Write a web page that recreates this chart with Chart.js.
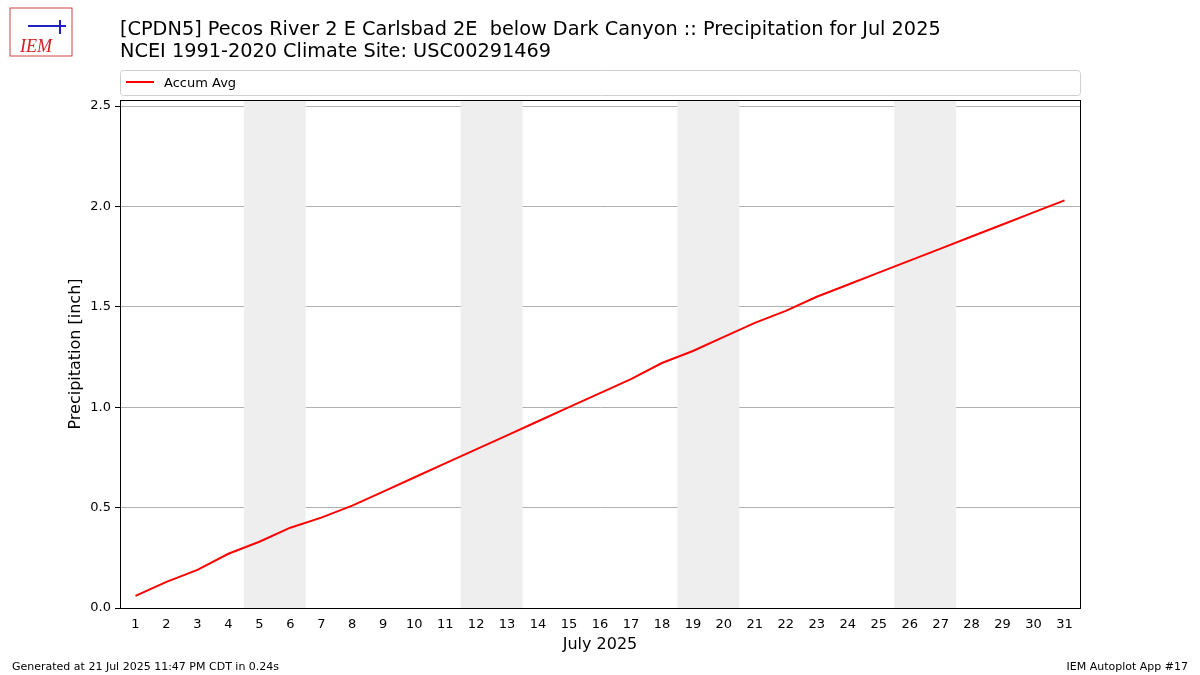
<!DOCTYPE html>
<html><head><meta charset="utf-8">
<script src="https://cdn.jsdelivr.net/npm/chart.js@4/dist/chart.umd.min.js"></script>
<style>html,body{margin:0;padding:0;background:#fff}#w{width:1200px;height:675px}</style>
</head><body><div id="w"><canvas id="c"></canvas></div>
<script>
const days = Array.from({length:31},(_,i)=>i+1);
const accumAvg = [0.06,0.13,0.19,0.27,0.33,0.40,0.45,0.51,0.58,0.65,0.72,0.79,0.86,0.93,1.00,1.07,1.14,1.22,1.28,1.35,1.42,1.48,1.55,1.61,1.67,1.73,1.79,1.85,1.91,1.97,2.03];
const weekends = [[5,6],[12,13],[19,20],[26,27]];
const titleLines = ["[CPDN5] Pecos River 2 E Carlsbad 2E  below Dark Canyon :: Precipitation for Jul 2025","NCEI 1991-2020 Climate Site: USC00291469"];
const F = "'DejaVu Sans', sans-serif";

const deco = {
  id:'deco',
  beforeDatasetsDraw(ch){
    const {ctx, chartArea:a, scales:{x}} = ch;
    ctx.save(); ctx.fillStyle='#eeeeee';
    weekends.forEach(([s,e])=>{const l=x.getPixelForValue(s-0.5), r=x.getPixelForValue(e+0.5); ctx.fillRect(l,a.top,r-l,a.bottom-a.top);});
    ctx.restore();
  },
  afterDraw(ch){
    const {ctx, chartArea:a} = ch;
    ctx.save();
    ctx.strokeStyle='#000'; ctx.lineWidth=1; ctx.strokeRect(a.left+0.5,a.top+0.5,a.right-a.left,a.bottom-a.top);
    ctx.fillStyle='#000'; ctx.textBaseline='alphabetic'; ctx.textAlign='left';
    ctx.font='19.3px '+F; ctx.fillText(titleLines[0],120,35); ctx.fillText(titleLines[1],120,57);
    ctx.strokeStyle='#d0d0d0'; ctx.beginPath(); ctx.roundRect(120.5,70.5,960,25,3); ctx.stroke();
    ctx.strokeStyle='red'; ctx.lineWidth=2; ctx.beginPath(); ctx.moveTo(126,82); ctx.lineTo(154,82); ctx.stroke();
    ctx.font='13px '+F; ctx.fillText('Accum Avg',164,87);
    ctx.font='16px '+F; ctx.textAlign='center'; ctx.fillText('July 2025',600,649);
    ctx.save(); ctx.translate(80,354); ctx.rotate(-Math.PI/2); ctx.fillText('Precipitation [inch]',0,0); ctx.restore();
    ctx.font='11px '+F; ctx.textAlign='left'; ctx.fillText('Generated at 21 Jul 2025 11:47 PM CDT in 0.24s',12,670);
    ctx.textAlign='right'; ctx.fillText('IEM Autoplot App #17',1188,670);
    ctx.strokeStyle='#d04040'; ctx.lineWidth=1; ctx.strokeRect(10,8,62,48);
    ctx.fillStyle='#d02020'; ctx.font='italic 18px "Liberation Serif", serif'; ctx.textAlign='left'; ctx.fillText('IEM',20,52);
    ctx.strokeStyle='#2020c0'; ctx.lineWidth=2; ctx.beginPath(); ctx.moveTo(28,26); ctx.lineTo(66,26); ctx.moveTo(60,20); ctx.lineTo(60,34); ctx.stroke();
    ctx.restore();
  }
};

new Chart(document.getElementById('c'),{
  type:'line',
  data:{datasets:[{label:'Accum Avg',data:days.map((d,i)=>({x:d,y:accumAvg[i]})),borderColor:'red',borderWidth:2,pointRadius:0,tension:0,fill:false}]},
  options:{
    responsive:true, maintainAspectRatio:false, animation:false,
    layout:{padding:{left:0,top:100,right:120,bottom:0}},
    plugins:{legend:{display:false},tooltip:{enabled:false}},
    scales:{
      x:{type:'linear',min:0.5,max:31.5,afterFit:s=>{s.height=67;},
        afterBuildTicks:s=>{s.ticks=days.map(v=>({value:v}));},
        ticks:{color:'#000',font:{family:F,size:13},maxRotation:0,autoSkip:false,padding:4,callback:v=>String(v)},
        grid:{display:false,drawTicks:true,tickLength:5,tickColor:'#000'},border:{color:'#000'}},
      y:{min:0,max:2.53,afterFit:s=>{s.width=120;},
        afterBuildTicks:s=>{s.ticks=[0,0.5,1,1.5,2,2.5].map(v=>({value:v}));},
        ticks:{color:'#000',font:{family:F,size:13},padding:4,callback:v=>v.toFixed(1)},
        grid:{color:'#b0b0b0',tickLength:5,tickColor:'#000'},border:{color:'#000'}}
    }
  },
  plugins:[deco]
});
</script></body></html>
